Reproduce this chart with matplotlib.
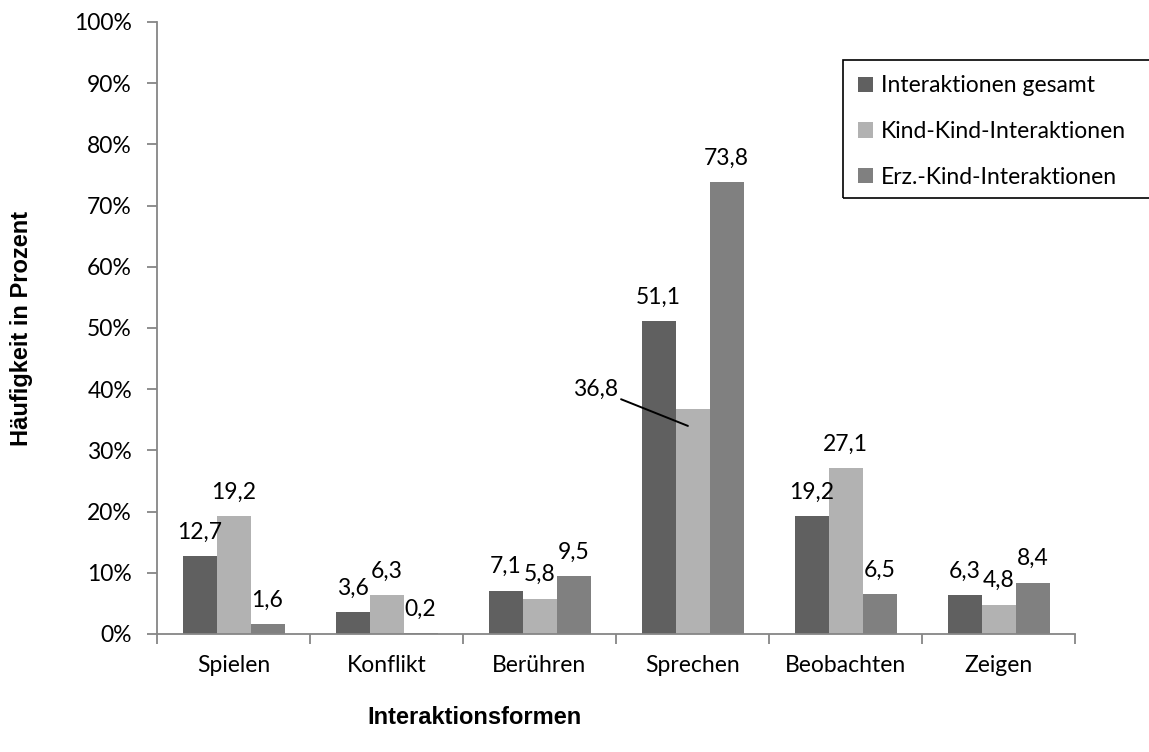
import matplotlib
matplotlib.use("Agg")
import matplotlib.pyplot as plt
from matplotlib.patches import Rectangle
import numpy as np

categories = ["Spielen", "Konflikt", "Berühren", "Sprechen", "Beobachten", "Zeigen"]
series_names = ["Interaktionen gesamt", "Kind-Kind-Interaktionen", "Erz.-Kind-Interaktionen"]
gesamt = [12.7, 3.6, 7.1, 51.1, 19.2, 6.3]
kind_kind = [19.2, 6.3, 5.8, 36.8, 27.1, 4.8]
erz_kind = [1.6, 0.2, 9.5, 73.8, 6.5, 8.4]
colors = ["#606060", "#b2b2b2", "#808080"]
yticks = [0, 10, 20, 30, 40, 50, 60, 70, 80, 90, 100]

W, H = 1149, 752
fig = plt.figure(figsize=(W / 100, H / 100), dpi=100)
ax = fig.add_axes([157 / W, 1 - 634 / H, (1075 - 157) / W, (634 - 22) / H])

font = "Lato"
fs = 16.5
axis_col = "#868686"

x = np.arange(len(categories))
bw = 2 / 9
offsets = [-bw, 0, bw]
all_series = [gesamt, kind_kind, erz_kind]
for i, (vals, name, col) in enumerate(zip(all_series, series_names, colors)):
    ax.bar(x + offsets[i], vals, width=bw, color=col, label=name, zorder=2)
    for j, v in enumerate(vals):
        lab = f"{v:.1f}".replace(".", ",")
        if i == 1 and categories[j] == "Sprechen":
            ax.annotate(lab, xy=(x[j] + offsets[i] - 0.03, v - 2.8),
                        xytext=(x[j] - 0.78, v + 1.4), textcoords="data",
                        ha="left", va="bottom", fontsize=fs, family=font,
                        arrowprops=dict(arrowstyle="-", color="black", lw=1.4,
                                        shrinkA=0, shrinkB=0,
                                        relpos=(1.0, 0.1)))
        else:
            ax.annotate(lab, xy=(x[j] + offsets[i], v), xytext=(0, 12.5),
                        textcoords="offset points", ha="center", va="baseline",
                        fontsize=fs, family=font)

ax.set_xlim(-0.5, len(categories) - 0.5)
ax.set_ylim(0, 100)
ax.set_yticks(yticks)
ax.set_yticklabels([f"{t}%" for t in yticks], fontsize=fs, family=font)
ax.set_xticks(x)
ax.set_xticklabels(categories, fontsize=fs, family=font)
ax.tick_params(axis="x", which="major", length=0, pad=15)
ax.set_xticks(np.arange(len(categories) + 1) - 0.5, minor=True)
ax.tick_params(axis="x", which="minor", length=7, color=axis_col, width=1.3)
ax.tick_params(axis="y", length=7, color=axis_col, width=1.3, pad=11)
for s in ["top", "right"]:
    ax.spines[s].set_visible(False)
for s in ["left", "bottom"]:
    ax.spines[s].set_color(axis_col)
    ax.spines[s].set_linewidth(1.3)

fig.text(22 / W, 1 - 328 / H, "Häufigkeit in Prozent", rotation=90, ha="center", va="center",
         fontsize=17, fontweight="bold", family="Liberation Sans")
fig.text(475 / W, 1 - 717 / H, "Interaktionsformen", ha="center", va="center",
         fontsize=17, fontweight="bold", family="Liberation Sans")

# legend frame runs off the right edge as in the reference
fig.patches.append(Rectangle((843 / W, 1 - 198 / H), (1160 - 843) / W, (198 - 60) / H,
                             transform=fig.transFigure, fill=False, edgecolor="black",
                             linewidth=1.2, zorder=5))
leg = fig.legend(loc="upper left", bbox_to_anchor=(848 / W, 1 - 65 / H),
                 prop={"family": font, "size": fs}, frameon=False,
                 handlelength=0.64, handleheight=0.64, handletextpad=0.35,
                 labelspacing=1.08, borderpad=0.45, borderaxespad=0)

fig.savefig("out.png", dpi=100)
